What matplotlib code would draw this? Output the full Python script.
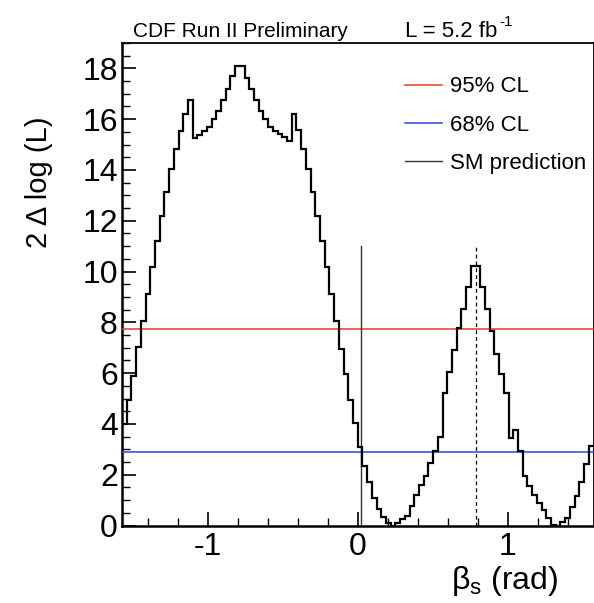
import numpy as np
import matplotlib
matplotlib.use("Agg")
import matplotlib.pyplot as plt
from matplotlib.ticker import FixedLocator, MultipleLocator

plt.rcParams['font.family'] = ['Liberation Sans', 'DejaVu Sans']
plt.rcParams['mathtext.fontset'] = 'custom'
plt.rcParams['mathtext.rm'] = 'Liberation Sans'
plt.rcParams['mathtext.it'] = 'Liberation Sans:italic'
plt.rcParams['axes.unicode_minus'] = False

# ---- data ----
x_min, x_max = -np.pi / 2, np.pi / 2
n_bins = 100
two_dlogL = [
    4.01, 4.95, 5.90, 7.02, 8.06, 9.12, 10.19, 11.20, 12.20, 13.14,
    14.02, 14.83, 15.53, 16.22, 16.77, 15.24, 15.37, 15.53, 15.70, 16.00,
    16.33, 16.75, 17.20, 17.69, 18.08, 18.08, 17.64, 17.20, 16.75, 16.33,
    16.00, 15.70, 15.53, 15.40, 15.28, 15.14, 16.22, 15.57, 14.84, 14.02,
    13.14, 12.20, 11.20, 10.19, 9.12, 8.06, 6.94, 5.96, 4.95, 4.03,
    3.08, 2.33, 1.71, 1.07, 0.64, 0.33, 0.08, 0.00, 0.11, 0.25,
    0.39, 0.77, 1.20, 1.59, 1.96, 2.46, 2.92, 3.47, 5.22, 6.03,
    6.90, 7.76, 8.52, 9.38, 10.20, 10.20, 9.38, 8.52, 7.67, 6.76,
    5.95, 5.22, 3.45, 3.77, 2.92, 1.95, 1.57, 1.22, 0.87, 0.63,
    0.31, 0.02, 0.00, 0.12, 0.30, 0.71, 1.16, 1.70, 2.42, 3.12,
]
cl95 = 7.72
cl68 = 2.91
sm_beta = 0.02
sm_line_top = 11.0
mirror_beta = np.pi / 4
legend_labels = ["95% CL", "68% CL", "SM prediction"]
xtick_vals = [-1, 0, 1]
ytick_vals = list(range(0, 19, 2))

edges = np.linspace(x_min, x_max, n_bins + 1)

W, H = 594, 603
fig = plt.figure(figsize=(W / 100, H / 100), dpi=100)
ax_left, ax_right, ax_top, ax_bot = 122, 593.5, 43, 525.5
ax = fig.add_axes([ax_left / W, 1 - ax_bot / H, (ax_right - ax_left) / W, (ax_bot - ax_top) / H])

ax.stairs(two_dlogL, edges, baseline=None, color='black', lw=1.6, zorder=4)
h95 = ax.axhline(cl95, color='#e83a24', lw=1.1, zorder=3)
h68 = ax.axhline(cl68, color='#2a48e0', lw=1.1, zorder=3)
hsm, = ax.plot([sm_beta, sm_beta], [0, sm_line_top], color='#333333', lw=1.0, zorder=3)
ax.plot([mirror_beta, mirror_beta], [0, sm_line_top], color='black', lw=0.9,
        ls=(0, (3, 2.5)), zorder=3)

ax.set_xlim(x_min, x_max)
ax.set_ylim(0, 19)

ax.xaxis.set_major_locator(FixedLocator(xtick_vals))
ax.xaxis.set_minor_locator(MultipleLocator(0.2))
ax.yaxis.set_major_locator(FixedLocator(ytick_vals))
ax.yaxis.set_minor_locator(MultipleLocator(0.5))
ax.tick_params(axis='both', which='both', direction='in', top=False, right=False)
ax.tick_params(axis='both', which='major', length=10, width=1.2, labelsize=23)
ax.tick_params(axis='both', which='minor', length=5.5, width=1.0)
ax.tick_params(axis='y', which='major', pad=3)
ax.tick_params(axis='x', which='major', pad=5)

for s in ['left', 'bottom']:
    ax.spines[s].set_linewidth(1.8)
for s in ['top', 'right']:
    ax.spines[s].set_linewidth(1.3)

ax.set_ylabel('2 Δ log (L)', fontsize=21)
ax.yaxis.set_label_coords((53 - ax_left) / (ax_right - ax_left), (ax_bot - 182) / (ax_bot - ax_top))
ax.set_xlabel(r'β$_{\mathrm{s}}$ (rad)', fontsize=23)
ax.xaxis.set_label_coords((505 - ax_left) / (ax_right - ax_left), (ax_bot - 564) / (ax_bot - ax_top))

fig.text(133 / W, 1 - 37 / H, 'CDF Run II Preliminary', fontsize=15, va='baseline', ha='left')
fig.text(497 / W, 1 - 37 / H, 'L = 5.2 fb', fontsize=16, va='baseline', ha='right')
fig.text(499 / W, 1 - 26 / H, '-1', fontsize=11, va='baseline', ha='left')

ax.legend([h95, h68, hsm], legend_labels, loc='upper left',
          bbox_to_anchor=(405 / W, 1 - 76.5 / H), bbox_transform=fig.transFigure,
          frameon=False, fontsize=16, handlelength=1.67, handletextpad=0.36,
          labelspacing=0.78, borderpad=0, borderaxespad=0)

fig.savefig('out.png', dpi=100)
